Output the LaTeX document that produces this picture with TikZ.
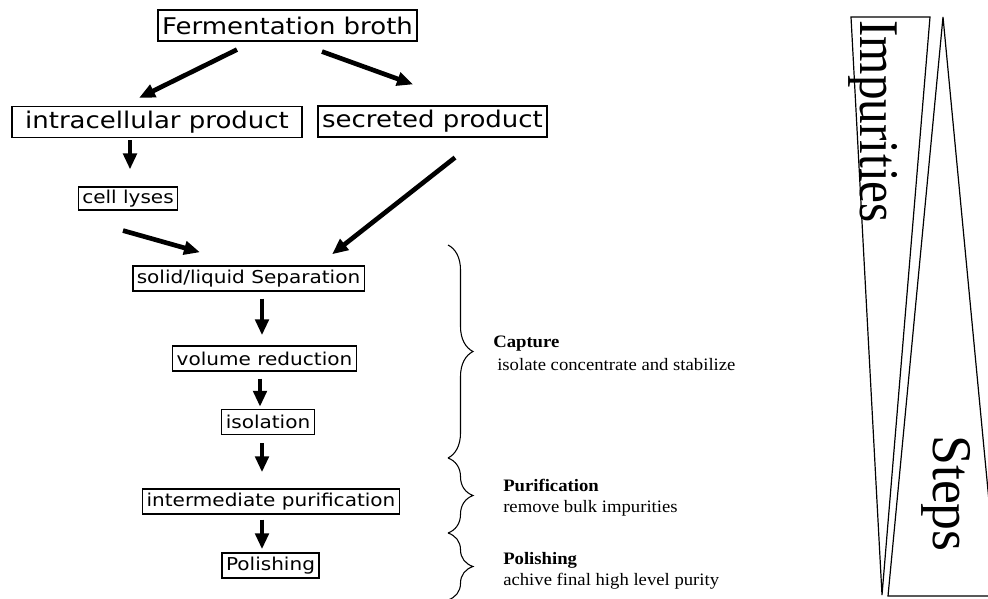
\documentclass[tikz,border=0pt]{standalone}
\usepackage{fontspec}
\usepackage{tikz}
\usetikzlibrary{arrows.meta}
\usetikzlibrary{calc}
\usetikzlibrary{decorations.pathreplacing}

\newfontfamily\boxfont{DejaVu Sans}[FakeStretch=1.13]
\newfontfamily\notefont{Liberation Serif}[FakeStretch=1.07]
\newfontfamily\impfont{Liberation Serif}[FakeStretch=0.88]
\newfontfamily\stepfont{Liberation Serif}[FakeStretch=0.96]

\begin{document}
\begin{tikzpicture}[x=0.75pt,y=-0.75pt,
        box/.style={draw, line width=1.1pt, inner xsep=3pt, inner ysep=0pt,
          minimum height=18.75pt, font=\boxfont\fontsize{13.3}{15}\selectfont},
        bigbox/.style={box, minimum height=23pt,
          font=\boxfont\fontsize{17.25}{20}\selectfont},
        arr/.style={line width=3.5pt, -{Triangle[length=12pt,width=10pt]}},
        curly/.style={line width=0.8pt, decorate,
          decoration={brace, amplitude=18.75pt}},
        note/.style={anchor=base west, inner sep=0pt,
          font=\notefont\fontsize{13.1}{15}\selectfont},
        notehead/.style={note, font=\notefont\bfseries\fontsize{13.1}{15}\selectfont}]
        \useasboundingbox (0,0) rectangle (988,599);
        \clip (0,0) rectangle (988,599);
        %
        \node [bigbox] (ferm) at (287.5,25.5) {Fermentation broth};
        \node [bigbox, minimum width=217.5pt] (intra) at (157,122) {intracellular product};
        \node [bigbox] (secr) at (432.5,121.5) {secreted product};
        \node [box, minimum height=17pt] (lyses) at (128,198.5) {cell lyses};
        \node [box] (solid) at (248.5,278.5) {solid/liquid Separation};
        \node [box] (volume) at (264.5,358.5) {volume reduction};
        \node [box] (iso) at (268,422) {isolation};
        \node [box] (inter) at (271,501.5) {intermediate purification};
        \node [box] (pol) at (270.5,565.5) {Polishing};
        %
        \draw [arr] ($(ferm.south)+(-50.5,8)$) -- ($(intra.north)+(-18,-8)$);
        \draw [arr] ($(ferm.south)+(34.5,10)$) -- ($(secr.north)+(-19.5,-21)$);
        \draw [arr] ($(intra.south)+(-27,2)$) -- ($(lyses.north)+(2,-17)$);
        \draw [arr] ($(lyses.south)+(-5,20)$) -- ($(solid.north)+(-48.5,-13)$);
        \draw [arr] ($(secr.south)+(22.5,20)$) -- ($(solid.north)+(83.5,-11)$);
        \draw [arr] ($(solid.south)+(13.5,7)$) -- ($(volume.north)+(-2.5,-10)$);
        \draw [arr] ($(volume.south)+(-4.5,7)$) -- ($(iso.north)+(-8,-2)$);
        \draw [arr] ($(iso.south)+(-6,8)$) -- ($(inter.north)+(-9,-16)$);
        \draw [arr] ($(inter.south)+(-9,5)$) -- ($(pol.north)+(-8.5,-3)$);
        %
        \draw [curly] (448,245) -- (448,458);
        \draw [curly] (448,458) -- (448,533);
        \draw [curly] (448,533) -- (448,600);
        %
        \node [notehead] (capt) at (493,347) {Capture};
        \node [note] (captnote) at (497,370) {isolate concentrate and stabilize};
        \node [notehead] (puri) at (503,491) {Purification};
        \node [note] (purinote) at (503,512) {remove bulk impurities};
        \node [notehead] (polh) at (503,564) {Polishing};
        \node [note] (polhnote) at (503,585) {achive final high level purity};
        %
        \draw [line width=0.9pt] (851,17) -- (930,17) -- (882,595) -- cycle;
        \draw [line width=0.9pt] (943,17) -- (998,596) -- (888,596) -- cycle;
        \node [rotate=-90, anchor=base west, inner sep=0pt,
          font=\impfont\fontsize{42}{42}\selectfont] (impur) at (860,20) {Impurities};
        \node [rotate=-90, anchor=base west, inner sep=0pt,
          font=\stepfont\fontsize{42}{42}\selectfont] (steps) at (933,435) {Steps};
      \end{tikzpicture}
\end{document}
